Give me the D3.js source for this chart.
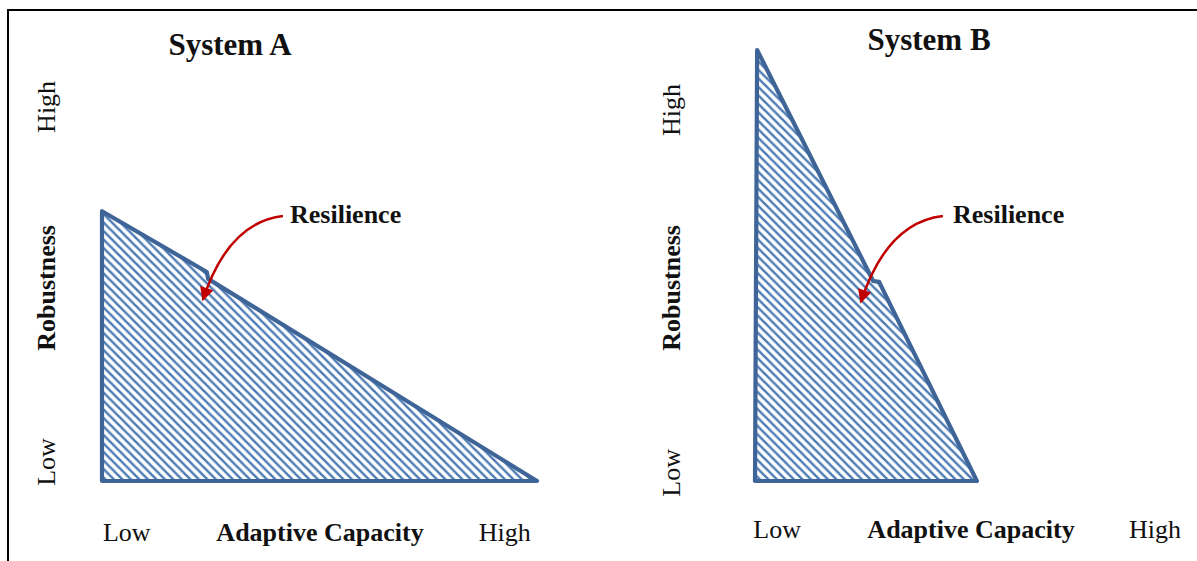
<!DOCTYPE html>
<html>
<head>
  <meta charset="UTF-8">
  <title>Resilience</title>
  <style>
    body { margin: 0; background: #fff; }
    text { font-family: 'Liberation Serif', 'Times New Roman', serif; fill: #111; }
    .bold { font-weight: bold; }
  </style>
</head>
<body>
<div id="container"></div>
<script src="https://d3js.org/d3.v7.min.js"></script>
<script>
// data (normalised 0..1 on both axes)
var systems = ["System A", "System B"];
var tickLabels = ["Low", "High"];
var xTitle = "Adaptive Capacity";
var yTitle = "Robustness";
var note = "Resilience";

// outline of each resilience area: [adaptive capacity, robustness]
var areaA = [[0, 0], [0, 0.626], [0.241, 0.485], [0.244, 0.469], [1, 0]];
var areaB = [[0, 0], [0.005, 1], [0.278, 0.464], [0.292, 0.462], [0.522, 0]];

// arrow: start, control, tip
var arrowA = [[0.416, 0.615], [0.29, 0.6], [0.232, 0.42]];
var arrowB = [[0.442, 0.615], [0.31, 0.6], [0.249, 0.415]];

// layout per panel (pixels)
var panels = [
  { name: systems[0], area: areaA, arrow: arrowA, x0: 102, x1: 537, titleX: 230, titleY: 55,
    xTickPos: [0.057, 0.926], xLabY: 541, yLabX: 55, yTickPos: [0.044, 0.868], noteX: 290, xTitleX: 320 },
  { name: systems[1], area: areaB, arrow: arrowB, x0: 755, x1: 1180, titleX: 929, titleY: 50,
    xTickPos: [0.052, 0.941], xLabY: 538, yLabX: 680, yTickPos: [0.019, 0.861], noteX: 953, xTitleX: 971 }
];

var W = 1197, H = 561;
var svg = d3.select("#container").append("svg")
  .attr("width", W).attr("height", H);

// hatch pattern
var defs = svg.append("defs");
var s = 8.5;
defs.append("pattern")
  .attr("id", "hatch")
  .attr("patternUnits", "userSpaceOnUse")
  .attr("width", s).attr("height", s)
  .append("path")
  .attr("d", "M-2," + (s - 2) + " L2," + (s + 2) + " M0,0 L" + s + "," + s +
             " M" + (s - 2) + ",-2 L" + (s + 2) + ",2")
  .attr("stroke", "#4e7bb4").attr("stroke-width", 2.5);

defs.append("marker")
  .attr("id", "head")
  .attr("viewBox", "0 0 10 10")
  .attr("refX", 9).attr("refY", 5)
  .attr("markerWidth", 6).attr("markerHeight", 5.5)
  .attr("markerUnits", "strokeWidth")
  .attr("orient", "auto")
  .append("path").attr("d", "M0,0 L10,5 L0,10 z").attr("fill", "#c00000");

// frame
svg.append("path")
  .attr("d", "M8," + H + " V10 H" + W)
  .attr("fill", "none").attr("stroke", "#000").attr("stroke-width", 2);

panels.forEach(function(p) {
  var x = d3.scaleLinear().domain([0, 1]).range([p.x0, p.x1]);
  var y = d3.scaleLinear().domain([0, 1]).range([481, 50]);
  var g = svg.append("g");

  var line = d3.line().x(function(d) { return x(d[0]); }).y(function(d) { return y(d[1]); });

  g.append("path")
    .attr("d", line(p.area) + "Z")
    .attr("fill", "url(#hatch)")
    .attr("stroke", "#3f6598").attr("stroke-width", 4.2)
    .attr("stroke-linejoin", "round");

  // title
  g.append("text").attr("class", "bold")
    .attr("x", p.titleX).attr("y", p.titleY)
    .attr("text-anchor", "middle").style("font-size", "31px")
    .text(p.name);

  // x labels
  tickLabels.forEach(function(t, i) {
    g.append("text").attr("x", x(p.xTickPos[i])).attr("y", p.xLabY)
      .attr("text-anchor", "middle").style("font-size", "26px").text(t);
  });
  g.append("text").attr("class", "bold")
    .attr("x", p.xTitleX).attr("y", p.xLabY)
    .attr("text-anchor", "middle").style("font-size", "26px").text(xTitle);

  // y labels
  tickLabels.forEach(function(t, i) {
    g.append("text")
      .attr("transform", "translate(" + p.yLabX + "," + y(p.yTickPos[i]) + ") rotate(-90)")
      .attr("text-anchor", "middle").style("font-size", "26px").text(t);
  });
  g.append("text").attr("class", "bold")
    .attr("transform", "translate(" + p.yLabX + "," + y(0.448) + ") rotate(-90)")
    .attr("text-anchor", "middle").style("font-size", "26px").text(yTitle);

  // annotation
  g.append("text").attr("class", "bold")
    .attr("x", p.noteX).attr("y", 223).style("font-size", "26px").text(note);

  var a = p.arrow;
  g.append("path")
    .attr("d", "M" + x(a[0][0]) + "," + y(a[0][1]) +
               " Q" + x(a[1][0]) + "," + y(a[1][1]) + " " + x(a[2][0]) + "," + y(a[2][1]))
    .attr("fill", "none").attr("stroke", "#c00000").attr("stroke-width", 2.5)
    .attr("marker-end", "url(#head)");
});
</script>
</body>
</html>
